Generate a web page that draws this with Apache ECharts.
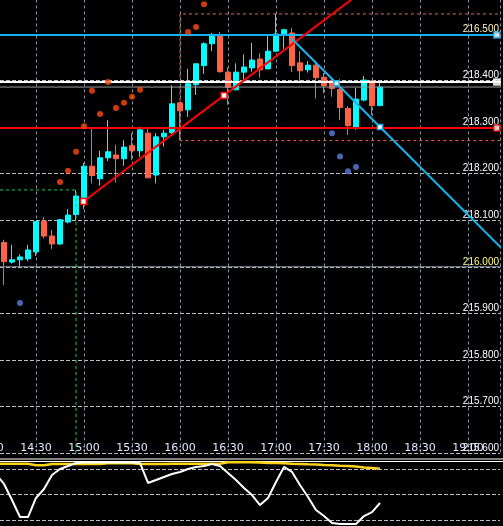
<!DOCTYPE html>
<html>
<head>
<meta charset="utf-8">
<script src="https://cdn.jsdelivr.net/npm/echarts@6/dist/echarts.min.js"></script>
<style>
html, body { margin: 0; padding: 0; background: #000; }
#chart { width: 503px; height: 526px; }
</style>
</head>
<body>
<div id="chart"></div>
<script>
// 5 minute bars
var candleTimes = ['14:10','14:15','14:20','14:25','14:30','14:35','14:40','14:45','14:50','14:55',
  '15:00','15:05','15:10','15:15','15:20','15:25','15:30','15:35','15:40','15:45',
  '15:50','15:55','16:00','16:05','16:10','16:15','16:20','16:25','16:30','16:35',
  '16:40','16:45','16:50','16:55','17:00','17:05','17:10','17:15','17:20','17:25',
  '17:30','17:35','17:40','17:45','17:50','17:55','18:00','18:05'];
var opens = [218.052,218.010,218.015,218.017,218.032,218.098,218.066,218.049,218.096,218.112,
  218.143,218.216,218.189,218.234,218.240,218.232,218.260,218.249,218.287,218.197,
  218.279,218.288,218.352,218.337,218.391,218.432,218.479,218.498,218.418,218.380,
  218.418,218.427,218.446,218.425,218.463,218.499,218.502,218.438,218.423,218.433,
  218.407,218.400,218.381,218.340,218.300,218.358,218.399,218.346];
var closes = [218.011,218.015,218.021,218.036,218.097,218.066,218.049,218.101,218.111,218.152,
  218.216,218.196,218.234,218.247,218.232,218.257,218.249,218.294,218.191,218.279,
  218.287,218.350,218.335,218.393,218.436,218.479,218.498,218.419,218.385,218.418,
  218.429,218.444,218.423,218.463,218.500,218.509,218.432,218.421,218.433,218.406,
  218.389,218.383,218.342,218.303,218.360,218.401,218.346,218.386];
var lows = [217.961,218.007,217.997,218.012,218.023,218.061,218.038,218.047,218.093,218.098,
  218.124,218.179,218.174,218.227,218.181,218.217,218.229,218.236,218.191,218.179,
  218.258,218.285,218.272,218.322,218.369,218.414,218.463,218.417,218.348,218.380,
  218.401,218.419,218.406,218.425,218.463,218.468,218.418,218.394,218.417,218.361,
  218.373,218.365,218.315,218.283,218.294,218.355,218.326,218.346];
var highs = [218.058,218.047,218.027,218.047,218.097,218.107,218.079,218.103,218.124,218.165,
  218.223,218.298,218.249,218.315,218.262,218.272,218.287,218.301,218.296,218.287,
  218.294,218.390,218.352,218.425,218.436,218.482,218.502,218.504,218.428,218.437,
  218.456,218.481,218.459,218.496,218.543,218.511,218.513,218.463,218.442,218.442,
  218.416,218.405,218.403,218.345,218.384,218.410,218.401,218.398];

var xTickLabels = ['14:00','14:30','15:00','15:30','16:00','16:30','17:00','17:30','18:00','18:30','19:00'];
var yTickLabels = ['215.600','215.700','215.800','215.900','216.000','218.100','218.200','218.300','218.400','216.500',''];

// dots
var orangeDotTimes = ['14:45','14:50','14:55','15:00','15:05','15:10','15:15','15:20','15:25','15:30','15:35','16:05','16:10','16:15'];
var orangeDotValues = [218.182,218.206,218.247,218.302,218.378,218.328,218.397,218.341,218.352,218.365,218.380,218.504,218.515,218.564];
var blueDotTimes = ['14:20','17:35','17:40','17:45','17:50'];
var blueDotValues = [217.922,218.287,218.237,218.205,218.214];

// horizontal levels
var blueLevel = 218.498;
var whiteLevel = 218.397;
var redLevel = 218.298;
var bidLevel = 218.386;
var roundLevel = 218.000;
var levelAnchorTime = '19:18';

// trend lines
var redTrendTimes = ['14:59.6','16:27.5','18:00'];
var redTrendValues = [218.140, 218.368, 218.607];
var blueTrendTimes = ['17:10','17:37.8','18:05','19:30'];
var blueTrendValues = [218.489, 218.394, 218.300, 218.009];

// dashed boxes
var redBoxTimes = ['19:30','16:00','16:00','19:30'];
var redBoxValues = [218.543, 218.543, 218.271, 218.271];
var greenBoxTimes = ['14:00','14:55','14:55'];
var greenBoxValues = [218.165, 218.165, 217.600];

// lower window
var oscTimes = ['14:05'].concat(candleTimes);
var oscMain = [70.1,60.3,44.6,27.9,27.9,46.6,55.4,69.1,75.0,77.9,80.9,
  81.4,81.4,81.4,81.4,81.4,81.4,81.4,80.9,61.3,64.2,
  67.2,70.1,72.1,75.0,77.0,77.9,79.9,77.9,71.1,64.2,
  56.4,49.5,39.7,46.6,62.3,77.0,72.1,59.3,47.5,34.8,
  28.9,22.1,21.1,21.1,21.1,28.9,32.8,41.7];
var oscSignal = [80.2,80.2,80.2,80.2,80.2,78.6,78.6,79.9,79.9,79.9,79.9,
  79.9,79.9,79.9,80.6,80.6,80.6,80.6,79.9,79.9,79.9,
  79.9,80.2,80.2,80.2,80.2,80.2,80.2,80.2,81.6,81.6,
  81.6,81.6,81.4,80.9,80.9,80.6,80.2,79.9,79.6,79.4,
  78.9,78.6,78.2,77.9,77.5,76.5,76.0,75.3];

function toMin(t) {
  var p = t.split(':');
  return (parseInt(p[0], 10) - 14) * 60 + parseFloat(p[1]);
}
function pairs(times, vals) {
  return times.map(function (t, i) { return [toMin(t), vals[i]]; });
}
function level(v, color, width) {
  return {
    type: 'line', xAxisIndex: 0, yAxisIndex: 0, z: 3,
    data: [[0, v], [330, v]], symbol: 'none', silent: true,
    lineStyle: { color: color, width: width }
  };
}
function anchor(v, color) {
  return {
    type: 'scatter', xAxisIndex: 0, yAxisIndex: 0, z: 5, silent: true,
    data: [[toMin(levelAnchorTime), v]], symbol: 'rect', symbolSize: 6,
    itemStyle: { color: '#fff', borderColor: color, borderWidth: 1.5 }
  };
}

var chart = echarts.init(document.getElementById('chart'));
var font = 'Liberation Sans';

var option = {
  backgroundColor: '#000',
  animation: false,
  grid: [
    { left: -12, right: 3, top: -12.6, height: 465.6, outerBoundsMode: 'none', containLabel: false },
    { left: -12, right: 3, top: 443.5, height: 102, outerBoundsMode: 'none', containLabel: false }
  ],
  xAxis: [{
    type: 'value', gridIndex: 0, min: 0, max: 320, interval: 30,
    axisLine: { show: false }, axisTick: { show: false },
    axisLabel: {
      inside: true, margin: -1, color: '#dfe7ff', fontFamily: 'DejaVu Sans', fontSize: 11,
      formatter: function (m) { return m % 30 === 0 ? xTickLabels[m / 30] : ''; }
    },
    splitLine: { show: true, lineStyle: { color: '#8393a8', type: [3, 3], width: 1 } }
  }, {
    type: 'value', gridIndex: 1, min: 0, max: 320, show: false
  }],
  yAxis: [{
    type: 'value', gridIndex: 0, position: 'right', min: 217.6, max: 218.6, interval: 0.1,
    axisLine: { show: false }, axisTick: { show: false },
    axisLabel: {
      inside: true, margin: 1, verticalAlign: 'bottom', fontFamily: font, fontSize: 10, lineHeight: 10,
      formatter: function (v) { return yTickLabels[Math.round((v - 217.6) * 10)]; },
      color: function (v) {
        var s = yTickLabels[Math.round((v - 217.6) * 10)];
        if (s === '216.500') return '#fff2c2';
        if (s === '216.000') return '#ffff7a';
        return '#ffffff';
      }
    },
    splitLine: { lineStyle: { color: '#b9bdc4', type: [4, 2], width: 1 } }
  }, {
    type: 'value', gridIndex: 1, min: 0, max: 100, interval: 25,
    axisLine: { show: false }, axisTick: { show: false }, axisLabel: { show: false },
    splitLine: { show: true, showMinLine: false, showMaxLine: false,
      lineStyle: { color: '#b9bdc4', type: [4, 2], width: 1 } }
  }],
  graphic: [
    { type: 'rect', shape: { x: 0, y: 458.5, width: 503, height: 1 }, style: { fill: '#ffffff' }, silent: true },
    { type: 'rect', shape: { x: 0, y: 461, width: 503, height: 1 }, style: { fill: '#ffffff' }, silent: true }
  ],
  series: [
    level(roundLevel, '#8a95a3', 1),
    {
      type: 'candlestick', xAxisIndex: 0, yAxisIndex: 0, z: 2,
      barWidth: 5,
      encode: { x: 0, y: [1, 2, 3, 4] },
      data: candleTimes.map(function (t, i) { return [toMin(t), opens[i], closes[i], lows[i], highs[i]]; }),
      itemStyle: { color: '#00ffff', color0: '#ff6347', borderColor: '#00ffff', borderColor0: '#ff6347', borderWidth: 1 }
    },
    {
      type: 'line', xAxisIndex: 0, yAxisIndex: 0, z: 3, silent: true, symbol: 'none',
      data: pairs(greenBoxTimes, greenBoxValues),
      lineStyle: { color: '#22c55e', width: 1, type: [3, 3] }
    },
    {
      type: 'line', xAxisIndex: 0, yAxisIndex: 0, z: 3, silent: true, symbol: 'none',
      data: pairs(redBoxTimes, redBoxValues),
      lineStyle: { color: '#f4604a', width: 1, type: [3, 3] }
    },
    level(bidLevel, '#9a9a9a', 1),
    level(blueLevel, '#12b4f0', 2),
    level(whiteLevel, '#ffffff', 2),
    level(redLevel, '#ff0000', 2),
    {
      type: 'line', xAxisIndex: 0, yAxisIndex: 0, z: 4, silent: true,
      data: pairs(redTrendTimes, redTrendValues).map(function (p, i) {
        return { value: p, symbol: i < 2 ? 'rect' : 'none' };
      }),
      symbolSize: 6,
      itemStyle: { color: '#fff', borderColor: '#ff0000', borderWidth: 1.5 },
      lineStyle: { color: '#ff0000', width: 2 }
    },
    {
      type: 'line', xAxisIndex: 0, yAxisIndex: 0, z: 4, silent: true,
      data: pairs(blueTrendTimes, blueTrendValues).map(function (p, i) {
        return { value: p, symbol: (i === 1 || i === 2) ? 'rect' : 'none' };
      }),
      symbolSize: 5,
      itemStyle: { color: '#fff', borderColor: '#12b4f0', borderWidth: 1.5 },
      lineStyle: { color: '#12b4f0', width: 2 }
    },
    anchor(blueLevel, '#12b4f0'),
    anchor(whiteLevel, '#ffffff'),
    anchor(redLevel, '#ff0000'),
    {
      type: 'scatter', xAxisIndex: 0, yAxisIndex: 0, z: 5, silent: true,
      data: pairs(orangeDotTimes, orangeDotValues), symbolSize: 6,
      itemStyle: { color: '#ff4a0a' }
    },
    {
      type: 'scatter', xAxisIndex: 0, yAxisIndex: 0, z: 5, silent: true,
      data: pairs(blueDotTimes, blueDotValues), symbolSize: 6,
      itemStyle: { color: '#5a7fe6' }
    },
    {
      type: 'line', xAxisIndex: 1, yAxisIndex: 1, z: 3, silent: true, symbol: 'none',
      data: pairs(oscTimes, oscSignal),
      lineStyle: { color: '#ffd21a', width: 2.5 }
    },
    {
      type: 'line', xAxisIndex: 1, yAxisIndex: 1, z: 4, silent: true, symbol: 'none',
      data: pairs(oscTimes, oscMain),
      lineStyle: { color: '#ffffff', width: 2 }
    }
  ]
};
chart.setOption(option);
</script>
</body>
</html>
